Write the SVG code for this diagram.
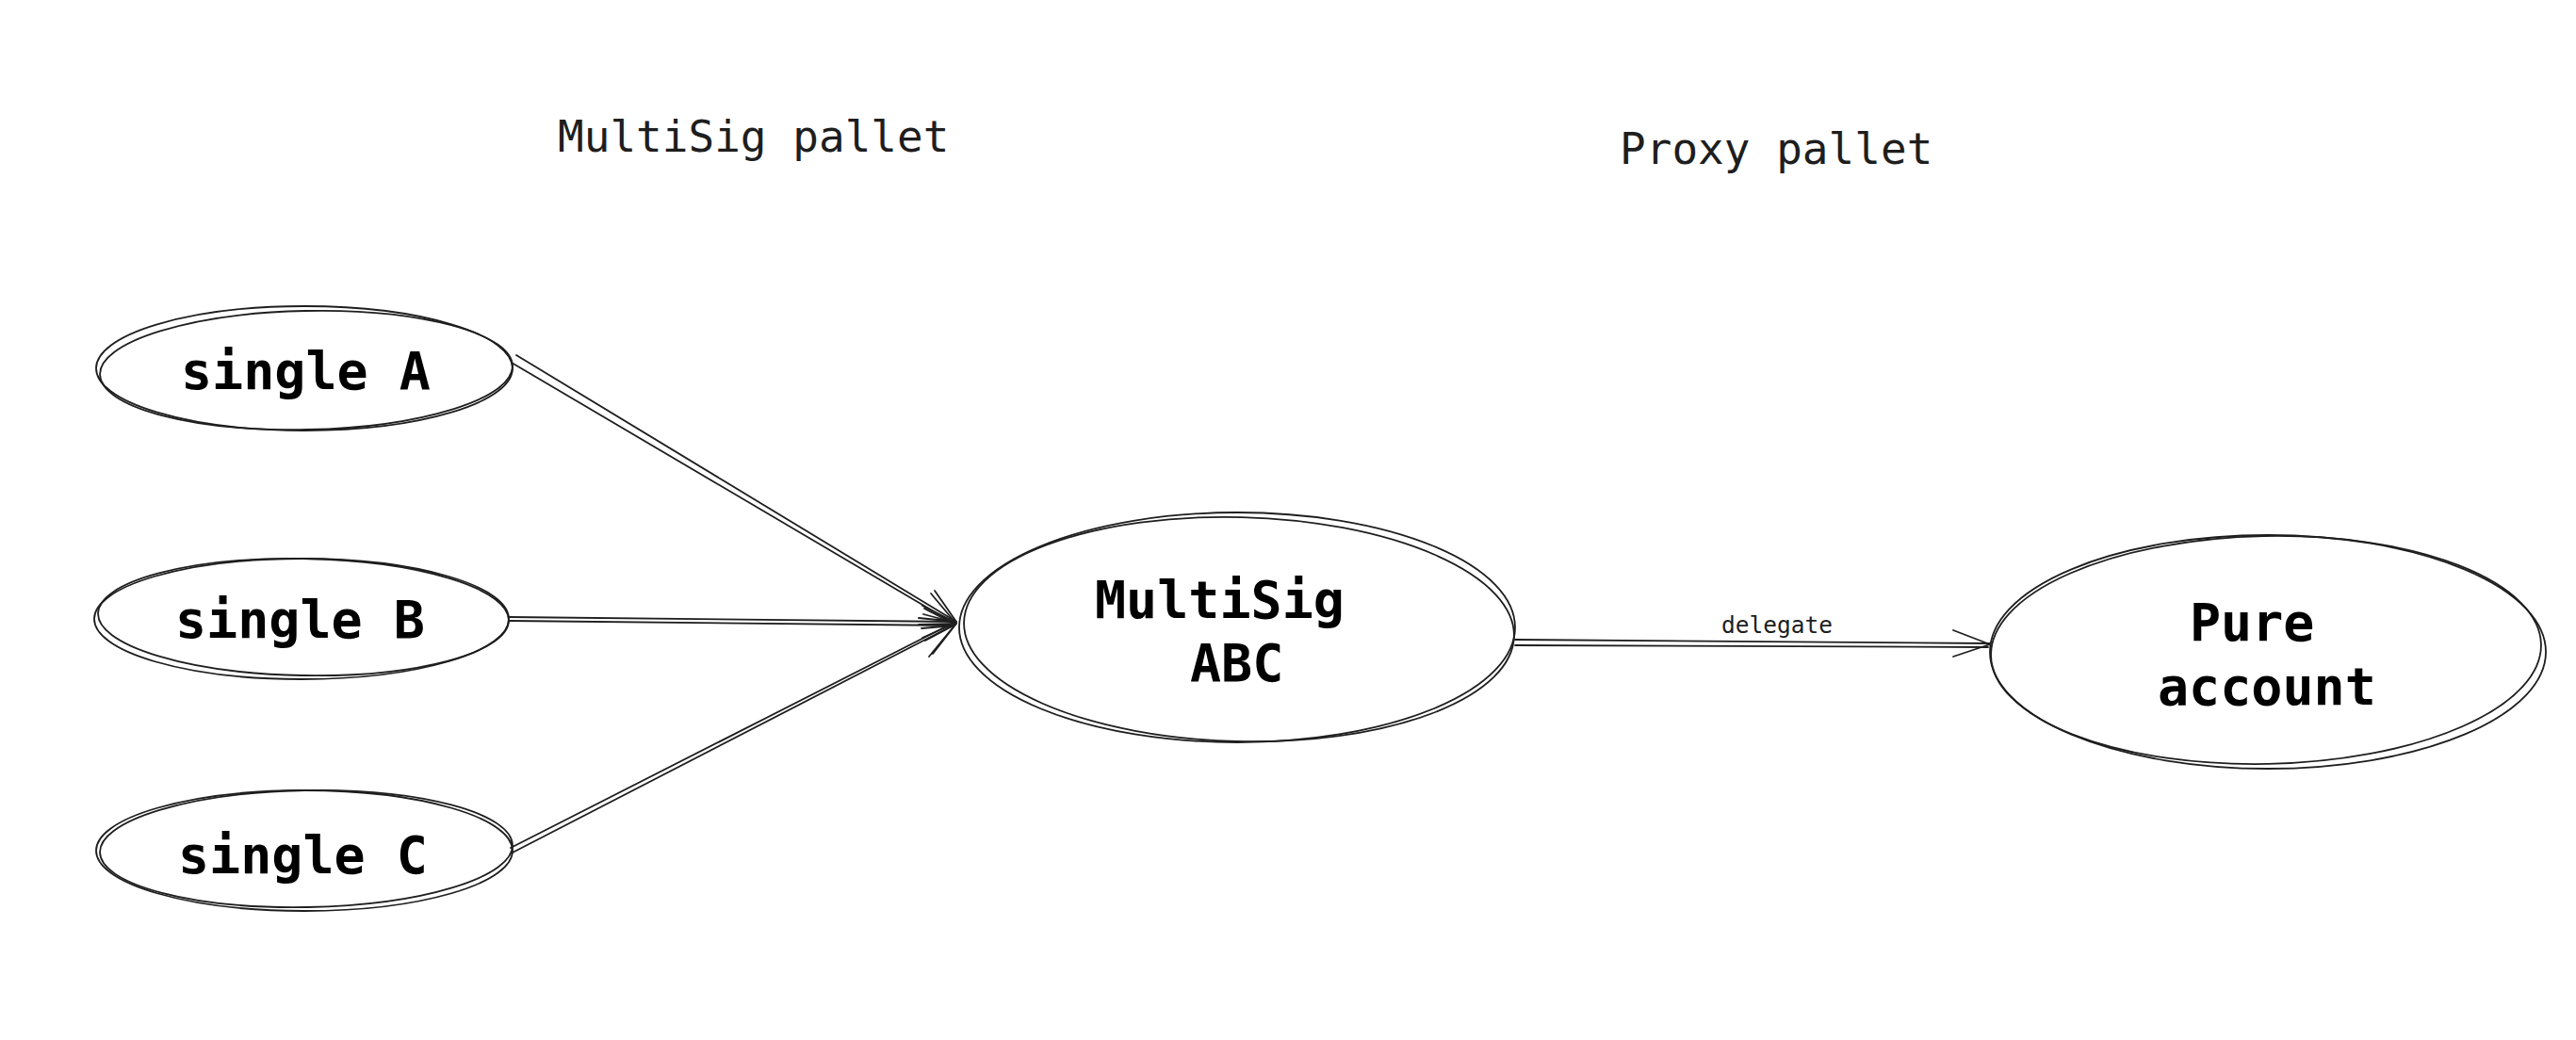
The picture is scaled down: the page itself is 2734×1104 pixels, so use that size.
<svg xmlns="http://www.w3.org/2000/svg" width="2734" height="1104" viewBox="0 0 2734 1104">
<style>
.sk{fill:none;stroke:#1e1e1e;stroke-width:1.8;stroke-linecap:round;stroke-linejoin:round}
.t{font-family:"DejaVu Sans Mono","Liberation Mono",monospace;fill:#1e1e1e}
.big{font-size:55px;font-weight:bold;fill:#000000}
.title{font-size:46px}
.lbl{font-size:24.5px}
</style>
<rect width="2734" height="1104" fill="#ffffff"/>
<text class="t title" x="592" y="161">MultiSig pallet</text>
<text class="t title" x="1719" y="174">Proxy pallet</text>
<g id="singleA">
<ellipse class="sk" cx="323" cy="391" rx="221" ry="66"/>
<ellipse class="sk" cx="325" cy="393" rx="219" ry="63" transform="rotate(-1.2 325 393)"/>
<text class="t big" x="192" y="413">single A</text>
</g>
<g id="singleB">
<ellipse class="sk" cx="320" cy="657" rx="220" ry="64"/>
<ellipse class="sk" cx="322" cy="655" rx="218" ry="62" transform="rotate(1 322 655)"/>
<text class="t big" x="186" y="677">single B</text>
</g>
<g id="singleC">
<ellipse class="sk" cx="323" cy="903" rx="221" ry="64"/>
<ellipse class="sk" cx="325" cy="901" rx="219" ry="62" transform="rotate(-1 325 901)"/>
<text class="t big" x="189" y="927">single C</text>
</g>
<g id="multisig">
<ellipse class="sk" cx="1313" cy="666" rx="295" ry="122"/>
<ellipse class="sk" cx="1315" cy="668" rx="292" ry="119" transform="rotate(1.5 1315 668)"/>
<text class="t big" x="1162" y="656">MultiSig</text>
<text class="t big" x="1263" y="723">ABC</text>
</g>
<g id="pure">
<ellipse class="sk" cx="2407" cy="692" rx="295" ry="124"/>
<ellipse class="sk" cx="2405" cy="690" rx="292" ry="121" transform="rotate(-1.2 2405 690)"/>
<text class="t big" x="2324" y="680">Pure</text>
<text class="t big" x="2290" y="748">account</text>
</g>
<g id="connectors">
<path class="sk" d="M548 377 L1015 660 M543 385 L1013 662"/>
<path class="sk" d="M975 656 L1015 660 L992 627 M980 652 L1014 661 L988 630"/>
<path class="sk" d="M540 655 L1015 660 M540 659 L1013 664"/>
<path class="sk" d="M979 677 L1015 661 L979 643 M982 680 L1014 663 L981 646"/>
<path class="sk" d="M544 905 L1015 662 M542 900 L1012 661"/>
<path class="sk" d="M990 694 L1015 662 L975 663 M986 697 L1013 664 L978 667"/>
<path class="sk" d="M1608 679 L2112 683 M1608 685 L2110 687"/>
<path class="sk" d="M2073 669 L2112 684 L2073 697"/>
<text class="t lbl" x="1827" y="672">delegate</text>
</g>
</svg>
